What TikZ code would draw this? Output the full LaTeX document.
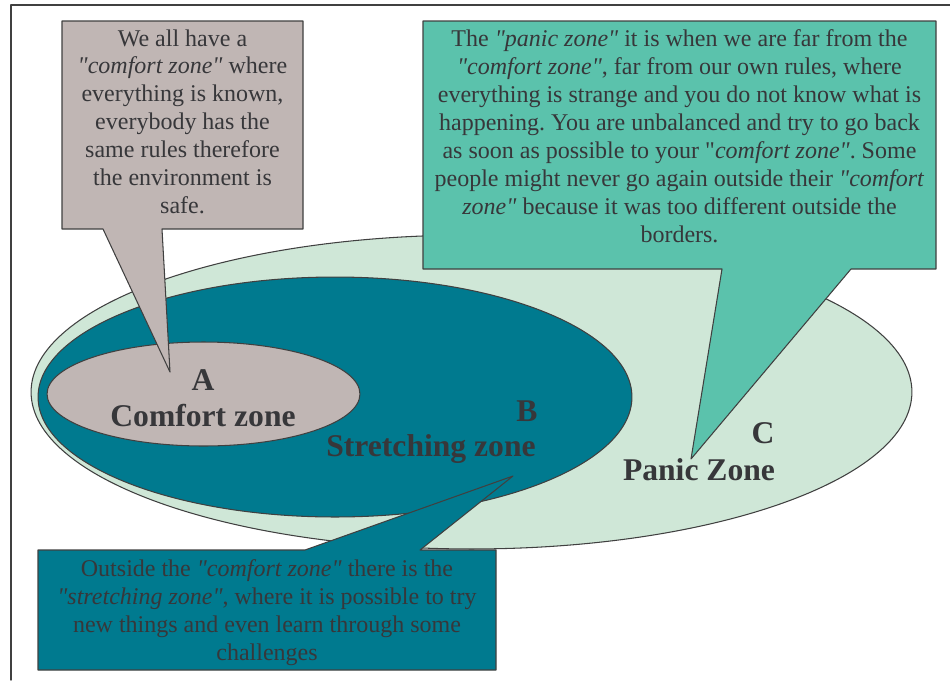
\documentclass[tikz,border=0pt]{standalone}
\usepackage{fontspec}
\setmainfont{Liberation Serif}[Ligatures=TeXOff]
\frenchspacing
\definecolor{edge}{RGB}{64,64,64}
\definecolor{ink}{RGB}{55,55,58}
\definecolor{comfortfill}{RGB}{192,182,180}
\definecolor{stretchfill}{RGB}{0,122,143}
\definecolor{panicfill}{RGB}{91,194,172}
\definecolor{panicbg}{RGB}{207,231,215}
\tikzset{
  zone/.style={draw=edge, line width=0.6pt},
  note/.style={anchor=north, align=center, inner sep=0pt, text=ink,
    font=\fontsize{13.66}{15.93}\selectfont},
  zonelabel/.style={text=ink, inner sep=0pt, font=\fontsize{18}{20}\selectfont\bfseries}
}
\begin{document}
\begin{tikzpicture}[x=0.02cm, y=-0.02cm, line join=round, line cap=round]
\useasboundingbox (0,0) rectangle (950,680);
\path
(471.5,392) coordinate (C0)
(335,397) coordinate (B0)
(203.5,394) coordinate (A0)
(170,372) coordinate (tipA)
(513,476) coordinate (tipB)
(691,459) coordinate (tipC)
;
% frame
\draw[edge, line width=0.8pt] (11,680) -- (11,5) -- (950,5);
% the three zones
\draw[zone, fill=panicbg] (C0) ellipse [x radius=8.81cm, y radius=3.14cm];
\draw[zone, fill=stretchfill] (B0) ellipse [x radius=5.94cm, y radius=2.40cm];
\draw[zone, fill=comfortfill] (A0) ellipse [x radius=3.13cm, y radius=1.04cm];
% callouts
\draw[zone, fill=comfortfill] (62,21) -- (303,21) -- (303,229) -- (162,229) -- (tipA)
  -- (103,229) -- (62,229) -- cycle;
\draw[zone, fill=panicfill] (423,21) -- (936,21) -- (936,269) -- (851,269) -- (tipC)
  -- (722,269) -- (423,269) -- cycle;
\draw[zone, fill=stretchfill] (38,550) -- (305,550) -- (tipB) -- (420,550) -- (496,550)
  -- (496,670) -- (38,670) -- cycle;
% texts
\node[note] (comfortnote) at (182.5,29) {We all have a\\
  \textit{"comfort zone"} where\\ everything is known,\\ everybody has the\\
  same rules therefore\\ the environment is\\ safe.};
\node[note] (panicnote) at (679.5,29) {The \textit{"panic zone"} it is when we are far from the\\
  \textit{"comfort zone"}, far from our own rules, where\\
  everything is strange and you do not know what is\\
  happening. You are unbalanced and try to go back\\
  as soon as possible to your "\textit{comfort zone"}. Some\\
  people might never go again outside their \textit{"comfort}\\
  \textit{zone"} because it was too different outside the\\ borders.};
\node[note] (stretchnote) at (267,559) {Outside the \textit{"comfort zone"} there is the\\
  \textit{"stretching zone"}, where it is possible to try\\
  new things and even learn through some\\ challenges};
% zone labels
\foreach \n/\p/\t in {labA/{203,380}/A, labAname/{203,416}/Comfort zone,
  labB/{527,411}/B, labBname/{431,449}/Stretching zone,
  labC/{763,433}/C, labCname/{699,470}/Panic Zone}
  \node[zonelabel] (\n) at (\p) {\t};
\end{tikzpicture}
\end{document}
